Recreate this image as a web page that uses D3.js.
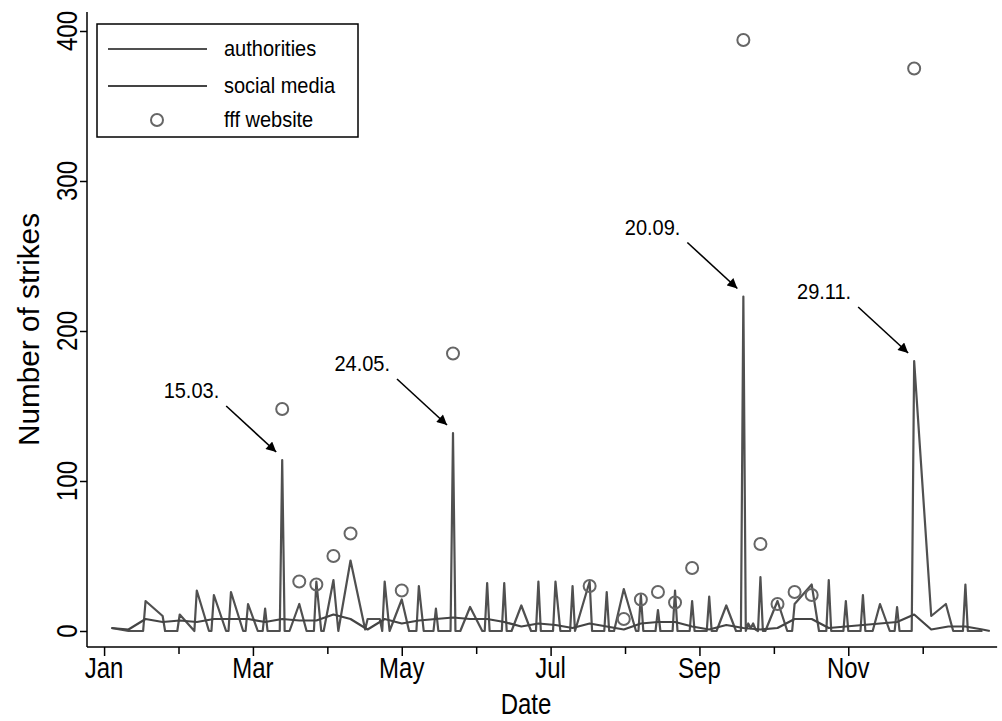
<!DOCTYPE html>
<html>
<head>
<meta charset="utf-8">
<script src="https://cdn.jsdelivr.net/npm/d3@7"></script>
<style>
  body { margin: 0; background: #fff; }
  text { font-family: "Liberation Sans", Arial, Helvetica, sans-serif; }
</style>
</head>
<body>
<div id="chart"></div>
<script>

// Data (2019, mostly Fridays)

// authorities: daily counts, spikes on strike days
const authDates = [
  "2019-01-04","2019-01-11","2019-01-17","2019-01-18","2019-01-25","2019-01-26","2019-01-31","2019-02-01",
  "2019-02-07","2019-02-08","2019-02-13","2019-02-14","2019-02-15","2019-02-20","2019-02-21","2019-02-22",
  "2019-02-27","2019-02-28","2019-03-01","2019-03-05","2019-03-07","2019-03-08","2019-03-09","2019-03-14",
  "2019-03-15","2019-03-16","2019-03-18","2019-03-22","2019-03-25","2019-03-28","2019-03-29","2019-03-31",
  "2019-04-01","2019-04-05","2019-04-07","2019-04-12","2019-04-18","2019-04-19","2019-04-24","2019-04-25",
  "2019-04-26","2019-04-28","2019-05-03","2019-05-06","2019-05-09","2019-05-10","2019-05-12","2019-05-16",
  "2019-05-17","2019-05-18","2019-05-23","2019-05-24","2019-05-25","2019-05-27","2019-05-31","2019-06-05",
  "2019-06-06","2019-06-07","2019-06-08","2019-06-13","2019-06-14","2019-06-15","2019-06-17","2019-06-21",
  "2019-06-25","2019-06-27","2019-06-28","2019-06-29","2019-07-04","2019-07-05","2019-07-07","2019-07-11",
  "2019-07-12","2019-07-13","2019-07-19","2019-07-20","2019-07-25","2019-07-26","2019-07-27","2019-07-29",
  "2019-08-02","2019-08-07","2019-08-08","2019-08-09","2019-08-10","2019-08-15","2019-08-16","2019-08-17",
  "2019-08-22","2019-08-23","2019-08-24","2019-08-29","2019-08-30","2019-08-31","2019-09-05","2019-09-06",
  "2019-09-07","2019-09-09","2019-09-13","2019-09-17","2019-09-19","2019-09-20","2019-09-21","2019-09-22",
  "2019-09-23","2019-09-24","2019-09-25","2019-09-26","2019-09-27","2019-09-28","2019-09-29","2019-10-04",
  "2019-10-08","2019-10-10","2019-10-11","2019-10-18","2019-10-21","2019-10-24","2019-10-25","2019-10-26",
  "2019-10-31","2019-11-01","2019-11-02","2019-11-07","2019-11-08","2019-11-09","2019-11-12","2019-11-15",
  "2019-11-19","2019-11-21","2019-11-22","2019-11-23","2019-11-28","2019-11-29","2019-12-06","2019-12-12",
  "2019-12-15","2019-12-19","2019-12-20","2019-12-21","2019-12-27"
];
const authValues = [
  2,0,0,20,10,0,0,11,
  0,27,0,0,24,0,0,26,
  0,0,18,0,0,15,0,0,
  114,0,0,18,0,0,33,0,
  0,34,0,47,1,8,8,0,
  33,0,21,0,0,30,0,0,
  15,0,0,132,0,0,16,0,
  0,32,0,0,32,0,0,17,
  0,0,33,0,0,33,0,0,
  30,0,33,0,0,26,0,0,
  28,0,0,24,0,0,14,0,
  0,27,0,0,20,0,0,23,
  0,0,17,0,0,223,0,5,
  2,5,1,0,36,0,0,20,
  0,0,18,31,0,0,34,0,
  0,20,0,0,24,0,0,18,
  0,0,16,0,0,180,10,18,
  0,0,31,0,0
];

// social media: weekly counts
const socialDates = [
  "2019-01-04","2019-01-11","2019-01-18","2019-01-25","2019-02-01","2019-02-08","2019-02-15","2019-02-22",
  "2019-03-01","2019-03-08","2019-03-15","2019-03-22","2019-03-29","2019-04-05","2019-04-12","2019-04-19",
  "2019-04-26","2019-05-03","2019-05-10","2019-05-17","2019-05-24","2019-05-31","2019-06-07","2019-06-14",
  "2019-06-21","2019-06-28","2019-07-05","2019-07-12","2019-07-19","2019-07-26","2019-08-02","2019-08-09",
  "2019-08-16","2019-08-23","2019-08-30","2019-09-06","2019-09-13","2019-09-20","2019-09-27","2019-10-04",
  "2019-10-11","2019-10-18","2019-10-25","2019-11-01","2019-11-08","2019-11-15","2019-11-22","2019-11-29",
  "2019-12-06","2019-12-13","2019-12-20","2019-12-27","2019-12-30"
];
const socialValues = [
  2,1,8,6,7,6,8,8,
  8,6,8,7,7,11,8,1,
  8,5,7,8,9,8,8,6,
  3,5,4,2,5,3,1,5,
  6,6,3,1,4,2,1,2,
  8,8,2,3,4,5,6,11,
  1,3,3,1,0
];

// fff website: strikes listed per Friday
const fffDates = [
  "2019-03-15","2019-03-22","2019-03-29","2019-04-05","2019-04-12","2019-05-03","2019-05-24","2019-07-19",
  "2019-08-02","2019-08-09","2019-08-16","2019-08-23","2019-08-30","2019-09-20","2019-09-27","2019-10-04",
  "2019-10-11","2019-10-18","2019-11-29"
];
const fffValues = [148,33,31,50,65,27,185,30,8,21,26,19,42,394,58,18,26,24,375];

// labelled spikes
const noteDates = ["2019-03-15","2019-05-24","2019-09-20","2019-11-29"];
const noteValues = [114,132,223,180];
const noteLabels = ["15.03.","24.05.","20.09.","29.11."];

// x axis ticks (Stata style, every 61 days)
const tickDates = ["2019-01-01","2019-03-03","2019-05-03","2019-07-03","2019-09-02","2019-11-02"];
const tickLabels = ["Jan","Mar","May","Jul","Sep","Nov"];
const yTicks = [0,100,200,300,400];


// Dimensions
const width = 1002;
const height = 721;
const parse = d3.utcParse("%Y-%m-%d");
const lineColor = "#505050";
// the glyphs in the picture are a bit taller than wide
const stretch = 1.2;

const svg = d3.select("#chart")
  .append("svg")
  .attr("width", width)
  .attr("height", height);

svg.append("rect")
  .attr("width", width)
  .attr("height", height)
  .attr("fill", "#fff");

/*

  Scales

*/

const xScale = d3.scaleUtc()
  .domain([parse("2018-12-25"), parse("2020-01-02")])
  .range([87, 87 + 373 * 2.44]);

const yScale = d3.scaleLinear()
  .domain([0, 400])
  .range([631, 31]);

const plotBottom = 647;
const plotTop = 12;

/*

  Axes

*/

// y axis
const yAxis = svg.append("g")
  .attr("transform", "translate(87,0)")
  .call(d3.axisLeft(yScale).tickValues(yTicks).tickSize(7).tickFormat(""));
yAxis.select(".domain").attr("d", `M0,${plotTop}V${plotBottom}`);
yAxis.selectAll("line, path").attr("stroke", "#000").attr("stroke-width", 1.5);

svg.selectAll(".ylab")
  .data(yTicks)
  .enter()
  .append("text")
  .attr("class", "ylab")
  .attr("transform", d => `translate(77,${yScale(d)}) rotate(-90) scale(1,${stretch})`)
  .attr("text-anchor", "middle")
  .attr("font-size", "24px")
  .text(d => d);

// x axis, major ticks
const majorTicks = tickDates.map(parse);
const minorTicks = majorTicks.map(d => new Date(d.getTime() + 30.5 * 864e5));

const xAxis = svg.append("g")
  .attr("transform", `translate(0,${plotBottom})`)
  .call(d3.axisBottom(xScale).tickValues(majorTicks).tickSize(9).tickFormat(""));
xAxis.select(".domain").attr("d", `M87,0H${xScale.range()[1]}`);
xAxis.selectAll("line, path").attr("stroke", "#000").attr("stroke-width", 1.5);

svg.selectAll(".xlab")
  .data(majorTicks)
  .enter()
  .append("text")
  .attr("class", "xlab")
  .attr("transform", d => `translate(${xScale(d)},678) scale(1,${stretch})`)
  .attr("text-anchor", "middle")
  .attr("font-size", "24px")
  .text((d, i) => tickLabels[i]);

// minor ticks
svg.append("g")
  .attr("transform", `translate(0,${plotBottom})`)
  .call(d3.axisBottom(xScale).tickValues(minorTicks).tickSize(7).tickFormat(""))
  .call(g => g.select(".domain").remove())
  .selectAll("line").attr("stroke", "#000").attr("stroke-width", 1.5);

// axis titles
svg.append("text")
  .attr("transform", `translate(526,714) scale(1,${stretch})`)
  .attr("text-anchor", "middle")
  .attr("font-size", "24px")
  .text("Date");

svg.append("text")
  .attr("transform", `translate(39,${(plotTop + plotBottom) / 2}) rotate(-90) scale(1.24,${stretch})`)
  .attr("text-anchor", "middle")
  .attr("font-size", "24px")
  .text("Number of strikes");

/*

  Lines

*/

const line = d3.line()
  .x(d => xScale(d.date))
  .y(d => yScale(d.value));

const authData = authDates.map((d, i) => ({date: parse(d), value: authValues[i]}));
const socialData = socialDates.map((d, i) => ({date: parse(d), value: socialValues[i]}));
const fffData = fffDates.map((d, i) => ({date: parse(d), value: fffValues[i]}));

svg.append("path")
  .datum(authData)
  .attr("d", line)
  .attr("fill", "none")
  .attr("stroke", lineColor)
  .attr("stroke-width", 2.2)
  .attr("stroke-linejoin", "round");

svg.append("path")
  .datum(socialData)
  .attr("d", line)
  .attr("fill", "none")
  .attr("stroke", "#444")
  .attr("stroke-width", 2.2)
  .attr("stroke-linejoin", "round");

svg.selectAll(".fff")
  .data(fffData)
  .enter()
  .append("circle")
  .attr("class", "fff")
  .attr("cx", d => xScale(d.date))
  .attr("cy", d => yScale(d.value))
  .attr("r", 6)
  .attr("fill", "none")
  .attr("stroke", "#666")
  .attr("stroke-width", 2);

/*

  Annotations

*/

svg.append("defs")
  .append("marker")
  .attr("id", "arrow")
  .attr("viewBox", "0 0 10 10")
  .attr("refX", 10)
  .attr("refY", 5)
  .attr("markerWidth", 11)
  .attr("markerHeight", 10)
  .attr("markerUnits", "userSpaceOnUse")
  .attr("orient", "auto")
  .append("path")
  .attr("d", "M0,0L10,5L0,10Z")
  .attr("fill", "#000");

noteDates.forEach((d, i) => {
  const px = xScale(parse(d));
  const py = yScale(noteValues[i]);
  svg.append("line")
    .attr("x1", px - 56).attr("y1", py - 54)
    .attr("x2", px - 6).attr("y2", py - 8)
    .attr("stroke", "#000")
    .attr("stroke-width", 1.6)
    .attr("marker-end", "url(#arrow)");
  svg.append("text")
    .attr("transform", `translate(${px - 63},${py - 62}) scale(1,1.12)`)
    .attr("text-anchor", "end")
    .attr("font-size", "20px")
    .text(noteLabels[i]);
});

/*

  Legend

*/

const legend = svg.append("g");
legend.append("rect")
  .attr("x", 97).attr("y", 24)
  .attr("width", 261).attr("height", 113)
  .attr("fill", "#fff")
  .attr("stroke", "#000")
  .attr("stroke-width", 1.5);

const legendLabels = ["authorities", "social media", "fff website"];
const legendY = [49, 86, 120];

legendLabels.forEach((name, i) => {
  if (i < 2) {
    legend.append("line")
      .attr("x1", 108).attr("x2", 207)
      .attr("y1", legendY[i]).attr("y2", legendY[i])
      .attr("stroke", i === 0 ? lineColor : "#444")
      .attr("stroke-width", 2.2);
  } else {
    legend.append("circle")
      .attr("cx", 157).attr("cy", legendY[i])
      .attr("r", 6)
      .attr("fill", "none")
      .attr("stroke", "#666")
      .attr("stroke-width", 2);
  }
  legend.append("text")
    .attr("transform", `translate(224,${legendY[i] + 7}) scale(1,1.08)`)
    .attr("font-size", "20px")
    .text(name);
});

</script>
</body>
</html>
